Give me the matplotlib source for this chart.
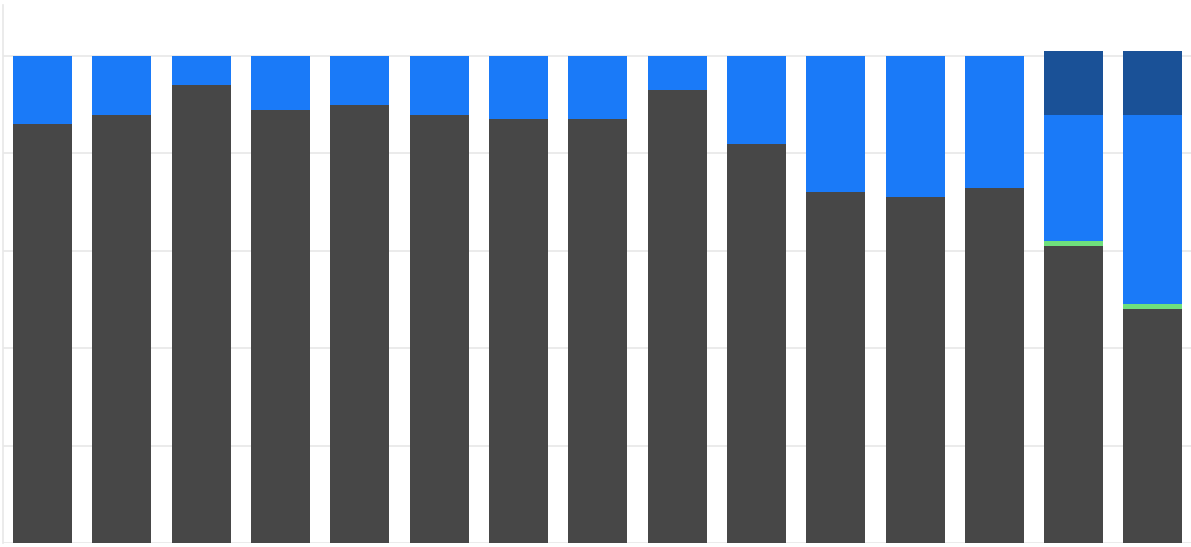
import matplotlib
matplotlib.use("Agg")
import numpy as np
import matplotlib.pyplot as plt

# share of each bar, in percent
gray_vals = [86, 88, 94, 89, 90, 88, 87, 87, 93, 82, 72, 71, 73, 61, 48]
green_vals = [0, 0, 0, 0, 0, 0, 0, 0, 0, 0, 0, 0, 0, 1, 1]
blue_vals = [14, 12, 6, 11, 10, 12, 13, 13, 7, 18, 28, 29, 27, 26, 39]
navy_vals = [0, 0, 0, 0, 0, 0, 0, 0, 0, 0, 0, 0, 0, 13, 13]

x = np.arange(len(gray_vals))
w = 0.744

fig = plt.figure(figsize=(11.91, 5.47), dpi=100)
ax = fig.add_axes([3 / 1191, 4 / 547, 1 - 3 / 1191, 538 / 547])

bottom = np.zeros(len(x))
for vals, col in [(gray_vals, "#474747"), (green_vals, "#6fe07c"),
                  (blue_vals, "#1a7af8"), (navy_vals, "#1a5197")]:
    ax.bar(x, vals, width=w, bottom=bottom, color=col, linewidth=0, zorder=3)
    bottom += np.array(vals)

ax.set_xlim(-0.5, 14.48)
ax.set_ylim(0, 110.5)
ax.set_yticks([0, 20, 40, 60, 80, 100])
ax.grid(axis="y", color="#e8e8e8", linewidth=1.2, zorder=0)
ax.tick_params(left=False, bottom=False, labelleft=False, labelbottom=False)
for s in ["top", "right", "bottom"]:
    ax.spines[s].set_visible(False)
ax.spines["left"].set_color("#e8e8e8")
ax.spines["left"].set_linewidth(1.2)

fig.savefig("out.png", dpi=100)
